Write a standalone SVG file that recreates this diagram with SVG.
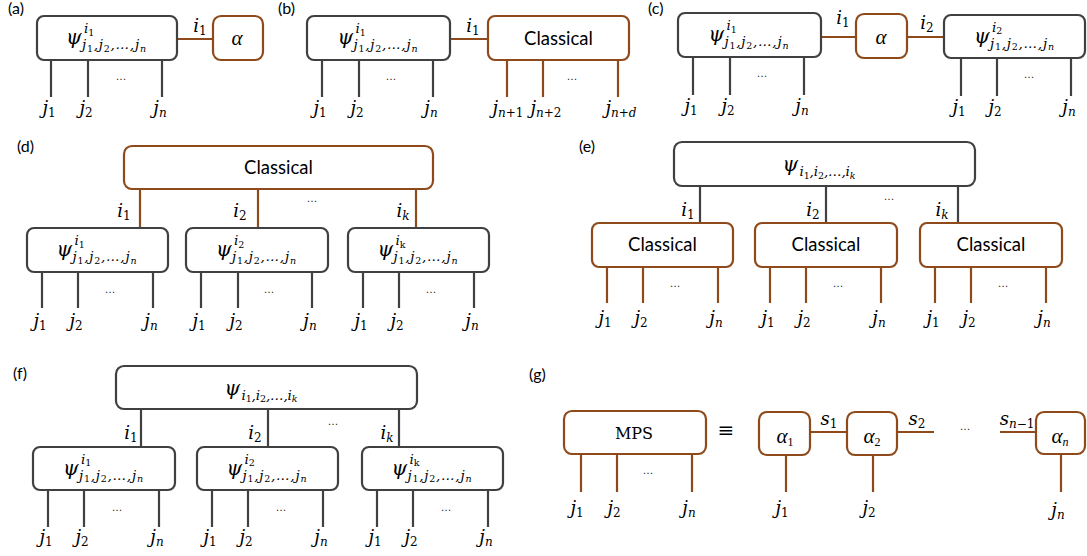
<svg xmlns="http://www.w3.org/2000/svg" width="1087" height="556" viewBox="0 0 1087 556">
<style>
.bd{fill:#fff;stroke:#404040;stroke-width:2.2}
.bo{fill:#fff;stroke:#8E4A1B;stroke-width:2.2}
.ld{stroke:#404040;stroke-width:2.2;fill:none}
.lo{stroke:#8E4A1B;stroke-width:2.2;fill:none}
.pl{font-family:Lato,"Liberation Sans",sans-serif;font-size:16px;fill:#000}
.cl{font-family:Lato,"Liberation Sans",sans-serif;font-size:18.5px;fill:#000;text-anchor:middle}
.m{font-family:"DejaVu Serif","Liberation Serif",serif;font-style:italic;fill:#000}
.al{font-family:"Liberation Serif","DejaVu Serif",serif;font-style:italic;fill:#000;font-size:21px;text-anchor:middle}
.psi{font-size:20px}
.sm{font-size:13.5px}
.ss{font-size:9.5px;font-style:normal}
.jl{font-size:18px;text-anchor:middle}
.js{font-size:12px;font-style:normal}
.it{font-style:italic}
.dots{font-family:"Liberation Sans",sans-serif;font-size:11px;fill:#222;text-anchor:middle}
.up{font-family:"DejaVu Serif","Liberation Serif",serif;fill:#000;text-anchor:middle}
</style>

<g id="panel-labels">
<text class="pl" x="8" y="14">(a)</text>
<text class="pl" x="278" y="14">(b)</text>
<text class="pl" x="648" y="14">(c)</text>
<text class="pl" x="17" y="152">(d)</text>
<text class="pl" x="579" y="152">(e)</text>
<text class="pl" x="13" y="379">(f)</text>
<text class="pl" x="529" y="380">(g)</text>
</g>

<g id="connectors">
<!-- (a) -->
<line class="ld" x1="51" y1="60" x2="51" y2="97"/>
<line class="ld" x1="88" y1="60" x2="88" y2="97"/>
<line class="ld" x1="162" y1="60" x2="162" y2="97"/>
<line class="lo" x1="177" y1="39" x2="213" y2="39"/>
<!-- (b) -->
<line class="ld" x1="322" y1="60" x2="322" y2="97"/>
<line class="ld" x1="359" y1="60" x2="359" y2="97"/>
<line class="ld" x1="433" y1="60" x2="433" y2="97"/>
<line class="lo" x1="450" y1="39" x2="488" y2="39"/>
<line class="lo" x1="507" y1="60" x2="507" y2="97"/>
<line class="lo" x1="543" y1="60" x2="543" y2="97"/>
<line class="lo" x1="618" y1="60" x2="618" y2="97"/>
<!-- (c) -->
<line class="ld" x1="693" y1="57" x2="693" y2="95"/>
<line class="ld" x1="730" y1="57" x2="730" y2="95"/>
<line class="ld" x1="804" y1="57" x2="804" y2="95"/>
<line class="lo" x1="821" y1="37" x2="856" y2="37"/>
<line class="lo" x1="907" y1="37" x2="944" y2="37"/>
<line class="ld" x1="961" y1="58" x2="961" y2="96"/>
<line class="ld" x1="997" y1="58" x2="997" y2="96"/>
<line class="ld" x1="1071" y1="58" x2="1071" y2="96"/>
<!-- (d) -->
<line class="lo" x1="140" y1="189" x2="140" y2="228"/>
<line class="lo" x1="258" y1="189" x2="258" y2="228"/>
<line class="lo" x1="416" y1="189" x2="416" y2="228"/>
<line class="ld" x1="42" y1="272" x2="42" y2="308"/>
<line class="ld" x1="78" y1="272" x2="78" y2="308"/>
<line class="ld" x1="153" y1="272" x2="153" y2="308"/>
<line class="ld" x1="201" y1="272" x2="201" y2="308"/>
<line class="ld" x1="238" y1="272" x2="238" y2="308"/>
<line class="ld" x1="312" y1="272" x2="312" y2="308"/>
<line class="ld" x1="363" y1="272" x2="363" y2="308"/>
<line class="ld" x1="399" y1="272" x2="399" y2="308"/>
<line class="ld" x1="474" y1="272" x2="474" y2="308"/>
<!-- (e) -->
<line class="ld" x1="700" y1="186" x2="700" y2="223"/>
<line class="ld" x1="826" y1="186" x2="826" y2="223"/>
<line class="ld" x1="958" y1="186" x2="958" y2="223"/>
<line class="lo" x1="607" y1="267" x2="607" y2="303"/>
<line class="lo" x1="643" y1="267" x2="643" y2="303"/>
<line class="lo" x1="718" y1="267" x2="718" y2="303"/>
<line class="lo" x1="770" y1="267" x2="770" y2="303"/>
<line class="lo" x1="806" y1="267" x2="806" y2="303"/>
<line class="lo" x1="881" y1="267" x2="881" y2="303"/>
<line class="lo" x1="935" y1="267" x2="935" y2="303"/>
<line class="lo" x1="971" y1="267" x2="971" y2="303"/>
<line class="lo" x1="1046" y1="267" x2="1046" y2="303"/>
<!-- (f) -->
<line class="ld" x1="141" y1="409" x2="141" y2="447"/>
<line class="ld" x1="268" y1="409" x2="268" y2="447"/>
<line class="ld" x1="399" y1="409" x2="399" y2="447"/>
<line class="ld" x1="48" y1="490" x2="48" y2="527"/>
<line class="ld" x1="84" y1="490" x2="84" y2="527"/>
<line class="ld" x1="159" y1="490" x2="159" y2="527"/>
<line class="ld" x1="212" y1="490" x2="212" y2="527"/>
<line class="ld" x1="248" y1="490" x2="248" y2="527"/>
<line class="ld" x1="323" y1="490" x2="323" y2="527"/>
<line class="ld" x1="377" y1="490" x2="377" y2="527"/>
<line class="ld" x1="413" y1="490" x2="413" y2="527"/>
<line class="ld" x1="488" y1="490" x2="488" y2="527"/>
<!-- (g) -->
<line class="lo" x1="581" y1="454" x2="581" y2="492"/>
<line class="lo" x1="617" y1="454" x2="617" y2="492"/>
<line class="lo" x1="692" y1="454" x2="692" y2="492"/>
<line class="lo" x1="786" y1="455" x2="786" y2="492"/>
<line class="lo" x1="873" y1="455" x2="873" y2="492"/>
<line class="lo" x1="1061" y1="454" x2="1061" y2="492"/>
<line class="lo" x1="810" y1="432" x2="847" y2="432"/>
<line class="lo" x1="897" y1="432" x2="934" y2="432"/>
<line class="lo" x1="1000" y1="432" x2="1036" y2="432"/>
</g>

<!-- ===== (a) ===== -->
<g id="a-psi">
<rect class="bd" x="37" y="16" width="140" height="44" rx="7"/>
<g transform="translate(107,38)">
<text class="m psi" x="-41" y="6">ψ</text>
<text class="m sm" x="-23" y="-5">i<tspan class="ss" dy="2.5">1</tspan></text>
<text class="m sm" x="-25" y="11" textLength="64" lengthAdjust="spacing">j<tspan class="ss" dy="2.5">1</tspan><tspan dy="-2.5">,j</tspan><tspan class="ss" dy="2.5">2</tspan><tspan dy="-2.5">,…,j</tspan><tspan class="ss it" dy="2.5">n</tspan></text>
</g>
</g>
<g id="a-alpha">
<rect class="bo" x="213" y="16" width="50" height="44" rx="8"/>
<text class="al" x="237" y="45">α</text>
</g>
<g id="a-text">
<text class="m jl" x="200" y="32">i<tspan class="js" dy="3">1</tspan></text>
<text class="dots" x="121" y="80">…</text>
<text class="m jl" x="49" y="114">j<tspan class="js" dy="3">1</tspan></text>
<text class="m jl" x="86" y="114">j<tspan class="js" dy="3">2</tspan></text>
<text class="m jl" x="160" y="114">j<tspan class="js it" dy="3">n</tspan></text>
</g>

<!-- ===== (b) ===== -->
<g id="b-psi">
<rect class="bd" x="307" y="16" width="143" height="44" rx="7"/>
<g transform="translate(378.5,38)">
<text class="m psi" x="-41" y="6">ψ</text>
<text class="m sm" x="-23" y="-5">i<tspan class="ss" dy="2.5">1</tspan></text>
<text class="m sm" x="-25" y="11" textLength="64" lengthAdjust="spacing">j<tspan class="ss" dy="2.5">1</tspan><tspan dy="-2.5">,j</tspan><tspan class="ss" dy="2.5">2</tspan><tspan dy="-2.5">,…,j</tspan><tspan class="ss it" dy="2.5">n</tspan></text>
</g>
</g>
<g id="b-classical">
<rect class="bo" x="488" y="16" width="141" height="44" rx="7"/>
<text class="cl" x="558.5" y="45">Classical</text>
</g>
<g id="b-text">
<text class="m jl" x="473" y="32">i<tspan class="js" dy="3">1</tspan></text>
<text class="dots" x="391" y="80">…</text>
<text class="dots" x="572" y="80">…</text>
<text class="m jl" x="320" y="114">j<tspan class="js" dy="3">1</tspan></text>
<text class="m jl" x="357" y="114">j<tspan class="js" dy="3">2</tspan></text>
<text class="m jl" x="431" y="114">j<tspan class="js it" dy="3">n</tspan></text>
<text class="m jl" x="508" y="114">j<tspan class="js it" dy="3">n</tspan><tspan class="js">+1</tspan></text>
<text class="m jl" x="546" y="114">j<tspan class="js it" dy="3">n</tspan><tspan class="js">+2</tspan></text>
<text class="m jl" x="621" y="114">j<tspan class="js it" dy="3">n</tspan><tspan class="js">+</tspan><tspan class="js it">d</tspan></text>
</g>

<!-- ===== (c) ===== -->
<g id="c-psi1">
<rect class="bd" x="678" y="13" width="143" height="44" rx="7"/>
<g transform="translate(749.5,35)">
<text class="m psi" x="-41" y="6">ψ</text>
<text class="m sm" x="-23" y="-5">i<tspan class="ss" dy="2.5">1</tspan></text>
<text class="m sm" x="-25" y="11" textLength="64" lengthAdjust="spacing">j<tspan class="ss" dy="2.5">1</tspan><tspan dy="-2.5">,j</tspan><tspan class="ss" dy="2.5">2</tspan><tspan dy="-2.5">,…,j</tspan><tspan class="ss it" dy="2.5">n</tspan></text>
</g>
</g>
<g id="c-alpha">
<rect class="bo" x="856" y="14" width="51" height="44" rx="8"/>
<text class="al" x="881" y="44">α</text>
</g>
<g id="c-psi2">
<rect class="bd" x="944" y="15" width="141" height="43" rx="7"/>
<g transform="translate(1015,36.5)">
<text class="m psi" x="-41" y="6">ψ</text>
<text class="m sm" x="-23" y="-5">i<tspan class="ss" dy="2.5">2</tspan></text>
<text class="m sm" x="-25" y="11" textLength="64" lengthAdjust="spacing">j<tspan class="ss" dy="2.5">1</tspan><tspan dy="-2.5">,j</tspan><tspan class="ss" dy="2.5">2</tspan><tspan dy="-2.5">,…,j</tspan><tspan class="ss it" dy="2.5">n</tspan></text>
</g>
</g>
<g id="c-text">
<text class="m jl" x="843" y="24">i<tspan class="js" dy="3">1</tspan></text>
<text class="m jl" x="927" y="29">i<tspan class="js" dy="3">2</tspan></text>
<text class="dots" x="762" y="77">…</text>
<text class="dots" x="1029" y="78">…</text>
<text class="m jl" x="691" y="112">j<tspan class="js" dy="3">1</tspan></text>
<text class="m jl" x="728" y="112">j<tspan class="js" dy="3">2</tspan></text>
<text class="m jl" x="802" y="112">j<tspan class="js it" dy="3">n</tspan></text>
<text class="m jl" x="959" y="113">j<tspan class="js" dy="3">1</tspan></text>
<text class="m jl" x="995" y="113">j<tspan class="js" dy="3">2</tspan></text>
<text class="m jl" x="1069" y="113">j<tspan class="js it" dy="3">n</tspan></text>
</g>

<!-- ===== (d) ===== -->
<g id="d-classical">
<rect class="bo" x="124" y="146" width="309" height="43" rx="8"/>
<text class="cl" x="278.5" y="174">Classical</text>
</g>
<g id="d-psi1">
<rect class="bd" x="27" y="228" width="141" height="44" rx="7"/>
<g transform="translate(97.5,250)">
<text class="m psi" x="-41" y="6">ψ</text>
<text class="m sm" x="-23" y="-5">i<tspan class="ss" dy="2.5">1</tspan></text>
<text class="m sm" x="-25" y="11" textLength="64" lengthAdjust="spacing">j<tspan class="ss" dy="2.5">1</tspan><tspan dy="-2.5">,j</tspan><tspan class="ss" dy="2.5">2</tspan><tspan dy="-2.5">,…,j</tspan><tspan class="ss it" dy="2.5">n</tspan></text>
</g>
</g>
<g id="d-psi2">
<rect class="bd" x="186" y="228" width="142" height="44" rx="7"/>
<g transform="translate(257,250)">
<text class="m psi" x="-41" y="6">ψ</text>
<text class="m sm" x="-23" y="-5">i<tspan class="ss" dy="2.5">2</tspan></text>
<text class="m sm" x="-25" y="11" textLength="64" lengthAdjust="spacing">j<tspan class="ss" dy="2.5">1</tspan><tspan dy="-2.5">,j</tspan><tspan class="ss" dy="2.5">2</tspan><tspan dy="-2.5">,…,j</tspan><tspan class="ss it" dy="2.5">n</tspan></text>
</g>
</g>
<g id="d-psi3">
<rect class="bd" x="348" y="228" width="141" height="44" rx="7"/>
<g transform="translate(418.5,250)">
<text class="m psi" x="-41" y="6">ψ</text>
<text class="m sm" x="-23" y="-5">i<tspan class="ss" dy="2.5">k</tspan></text>
<text class="m sm" x="-25" y="11" textLength="64" lengthAdjust="spacing">j<tspan class="ss" dy="2.5">1</tspan><tspan dy="-2.5">,j</tspan><tspan class="ss" dy="2.5">2</tspan><tspan dy="-2.5">,…,j</tspan><tspan class="ss it" dy="2.5">n</tspan></text>
</g>
</g>
<g id="d-text">
<text class="m jl" x="124" y="217">i<tspan class="js" dy="3">1</tspan></text>
<text class="m jl" x="240" y="217">i<tspan class="js" dy="3">2</tspan></text>
<text class="m jl" x="403" y="217">i<tspan class="js it" dy="3">k</tspan></text>
<text class="dots" x="312" y="202">…</text>
<text class="dots" x="110" y="293">…</text>
<text class="dots" x="269" y="293">…</text>
<text class="dots" x="431" y="293">…</text>
<text class="m jl" x="40" y="327">j<tspan class="js" dy="3">1</tspan></text>
<text class="m jl" x="76" y="327">j<tspan class="js" dy="3">2</tspan></text>
<text class="m jl" x="151" y="327">j<tspan class="js it" dy="3">n</tspan></text>
<text class="m jl" x="199" y="327">j<tspan class="js" dy="3">1</tspan></text>
<text class="m jl" x="236" y="327">j<tspan class="js" dy="3">2</tspan></text>
<text class="m jl" x="310" y="327">j<tspan class="js it" dy="3">n</tspan></text>
<text class="m jl" x="361" y="327">j<tspan class="js" dy="3">1</tspan></text>
<text class="m jl" x="397" y="327">j<tspan class="js" dy="3">2</tspan></text>
<text class="m jl" x="472" y="327">j<tspan class="js it" dy="3">n</tspan></text>
</g>

<!-- ===== (e) ===== -->
<g id="e-psi">
<rect class="bd" x="674" y="142" width="301" height="44" rx="8"/>
<g transform="translate(824.5,164)">
<text class="m psi" x="-42" y="7">ψ</text>
<text class="m sm" x="-25" y="12" textLength="56" lengthAdjust="spacing">i<tspan class="ss" dy="2.5">1</tspan><tspan dy="-2.5">,i</tspan><tspan class="ss" dy="2.5">2</tspan><tspan dy="-2.5">,…,i</tspan><tspan class="ss it" dy="2.5">k</tspan></text>
</g>
</g>
<g id="e-classical1">
<rect class="bo" x="592" y="223" width="141" height="44" rx="7"/>
<text class="cl" x="662.5" y="251">Classical</text>
</g>
<g id="e-classical2">
<rect class="bo" x="755" y="223" width="142" height="44" rx="7"/>
<text class="cl" x="826" y="251">Classical</text>
</g>
<g id="e-classical3">
<rect class="bo" x="920" y="223" width="142" height="44" rx="7"/>
<text class="cl" x="991" y="251">Classical</text>
</g>
<g id="e-text">
<text class="m jl" x="688" y="216">i<tspan class="js" dy="3">1</tspan></text>
<text class="m jl" x="813" y="216">i<tspan class="js" dy="3">2</tspan></text>
<text class="m jl" x="942" y="216">i<tspan class="js it" dy="3">k</tspan></text>
<text class="dots" x="889" y="200">…</text>
<text class="dots" x="675" y="287">…</text>
<text class="dots" x="838" y="287">…</text>
<text class="dots" x="1003" y="287">…</text>
<text class="m jl" x="605" y="324">j<tspan class="js" dy="3">1</tspan></text>
<text class="m jl" x="641" y="324">j<tspan class="js" dy="3">2</tspan></text>
<text class="m jl" x="716" y="324">j<tspan class="js it" dy="3">n</tspan></text>
<text class="m jl" x="768" y="324">j<tspan class="js" dy="3">1</tspan></text>
<text class="m jl" x="804" y="324">j<tspan class="js" dy="3">2</tspan></text>
<text class="m jl" x="879" y="324">j<tspan class="js it" dy="3">n</tspan></text>
<text class="m jl" x="933" y="324">j<tspan class="js" dy="3">1</tspan></text>
<text class="m jl" x="969" y="324">j<tspan class="js" dy="3">2</tspan></text>
<text class="m jl" x="1044" y="324">j<tspan class="js it" dy="3">n</tspan></text>
</g>

<!-- ===== (f) ===== -->
<g id="f-psi">
<rect class="bd" x="116" y="366" width="301" height="43" rx="8"/>
<g transform="translate(266.5,387.5)">
<text class="m psi" x="-42" y="7">ψ</text>
<text class="m sm" x="-25" y="12" textLength="56" lengthAdjust="spacing">i<tspan class="ss" dy="2.5">1</tspan><tspan dy="-2.5">,i</tspan><tspan class="ss" dy="2.5">2</tspan><tspan dy="-2.5">,…,i</tspan><tspan class="ss it" dy="2.5">k</tspan></text>
</g>
</g>
<g id="f-psi1">
<rect class="bd" x="33" y="447" width="142" height="43" rx="7"/>
<g transform="translate(104,468.5)">
<text class="m psi" x="-41" y="6">ψ</text>
<text class="m sm" x="-23" y="-5">i<tspan class="ss" dy="2.5">1</tspan></text>
<text class="m sm" x="-25" y="11" textLength="64" lengthAdjust="spacing">j<tspan class="ss" dy="2.5">1</tspan><tspan dy="-2.5">,j</tspan><tspan class="ss" dy="2.5">2</tspan><tspan dy="-2.5">,…,j</tspan><tspan class="ss it" dy="2.5">n</tspan></text>
</g>
</g>
<g id="f-psi2">
<rect class="bd" x="197" y="447" width="141" height="43" rx="7"/>
<g transform="translate(267.5,468.5)">
<text class="m psi" x="-41" y="6">ψ</text>
<text class="m sm" x="-23" y="-5">i<tspan class="ss" dy="2.5">2</tspan></text>
<text class="m sm" x="-25" y="11" textLength="64" lengthAdjust="spacing">j<tspan class="ss" dy="2.5">1</tspan><tspan dy="-2.5">,j</tspan><tspan class="ss" dy="2.5">2</tspan><tspan dy="-2.5">,…,j</tspan><tspan class="ss it" dy="2.5">n</tspan></text>
</g>
</g>
<g id="f-psi3">
<rect class="bd" x="362" y="447" width="141" height="43" rx="7"/>
<g transform="translate(432.5,468.5)">
<text class="m psi" x="-41" y="6">ψ</text>
<text class="m sm" x="-23" y="-5">i<tspan class="ss" dy="2.5">k</tspan></text>
<text class="m sm" x="-25" y="11" textLength="64" lengthAdjust="spacing">j<tspan class="ss" dy="2.5">1</tspan><tspan dy="-2.5">,j</tspan><tspan class="ss" dy="2.5">2</tspan><tspan dy="-2.5">,…,j</tspan><tspan class="ss it" dy="2.5">n</tspan></text>
</g>
</g>
<g id="f-text">
<text class="m jl" x="131" y="439">i<tspan class="js" dy="3">1</tspan></text>
<text class="m jl" x="255" y="439">i<tspan class="js" dy="3">2</tspan></text>
<text class="m jl" x="387" y="439">i<tspan class="js it" dy="3">k</tspan></text>
<text class="dots" x="333" y="425">…</text>
<text class="dots" x="117" y="511">…</text>
<text class="dots" x="281" y="511">…</text>
<text class="dots" x="446" y="511">…</text>
<text class="m jl" x="46" y="543">j<tspan class="js" dy="3">1</tspan></text>
<text class="m jl" x="82" y="543">j<tspan class="js" dy="3">2</tspan></text>
<text class="m jl" x="157" y="543">j<tspan class="js it" dy="3">n</tspan></text>
<text class="m jl" x="210" y="543">j<tspan class="js" dy="3">1</tspan></text>
<text class="m jl" x="246" y="543">j<tspan class="js" dy="3">2</tspan></text>
<text class="m jl" x="321" y="543">j<tspan class="js it" dy="3">n</tspan></text>
<text class="m jl" x="375" y="543">j<tspan class="js" dy="3">1</tspan></text>
<text class="m jl" x="411" y="543">j<tspan class="js" dy="3">2</tspan></text>
<text class="m jl" x="486" y="543">j<tspan class="js it" dy="3">n</tspan></text>
</g>

<!-- ===== (g) ===== -->
<g id="g-mps">
<rect class="bo" x="564" y="411" width="142" height="43" rx="8"/>
<text class="up" x="634" y="439" font-size="16">MPS</text>
</g>
<g id="g-alpha1">
<rect class="bo" x="759" y="412" width="51" height="43" rx="8"/>
<text class="al" x="785" y="443">α<tspan class="js" dy="3">1</tspan></text>
</g>
<g id="g-alpha2">
<rect class="bo" x="847" y="412" width="50" height="43" rx="8"/>
<text class="al" x="872" y="443">α<tspan class="js" dy="3">2</tspan></text>
</g>
<g id="g-alphan">
<rect class="bo" x="1036" y="412" width="49" height="42" rx="8"/>
<text class="al" x="1060" y="443">α<tspan class="js it" dy="3">n</tspan></text>
</g>
<g id="g-text">
<text class="up" x="726" y="437" font-size="20">≡</text>
<text class="m jl" x="829" y="425">s<tspan class="js" dy="3">1</tspan></text>
<text class="m jl" x="917" y="425">s<tspan class="js" dy="3">2</tspan></text>
<text class="m jl" x="1017" y="425">s<tspan class="js it" dy="3">n</tspan><tspan class="js">−1</tspan></text>
<text class="dots" x="965" y="430">…</text>
<text class="dots" x="648" y="474">…</text>
<text class="m jl" x="577" y="514">j<tspan class="js" dy="3">1</tspan></text>
<text class="m jl" x="614" y="514">j<tspan class="js" dy="3">2</tspan></text>
<text class="m jl" x="689" y="514">j<tspan class="js it" dy="3">n</tspan></text>
<text class="m jl" x="782" y="514">j<tspan class="js" dy="3">1</tspan></text>
<text class="m jl" x="869" y="514">j<tspan class="js" dy="3">2</tspan></text>
<text class="m jl" x="1058" y="516">j<tspan class="js it" dy="3">n</tspan></text>
</g>
</svg>
